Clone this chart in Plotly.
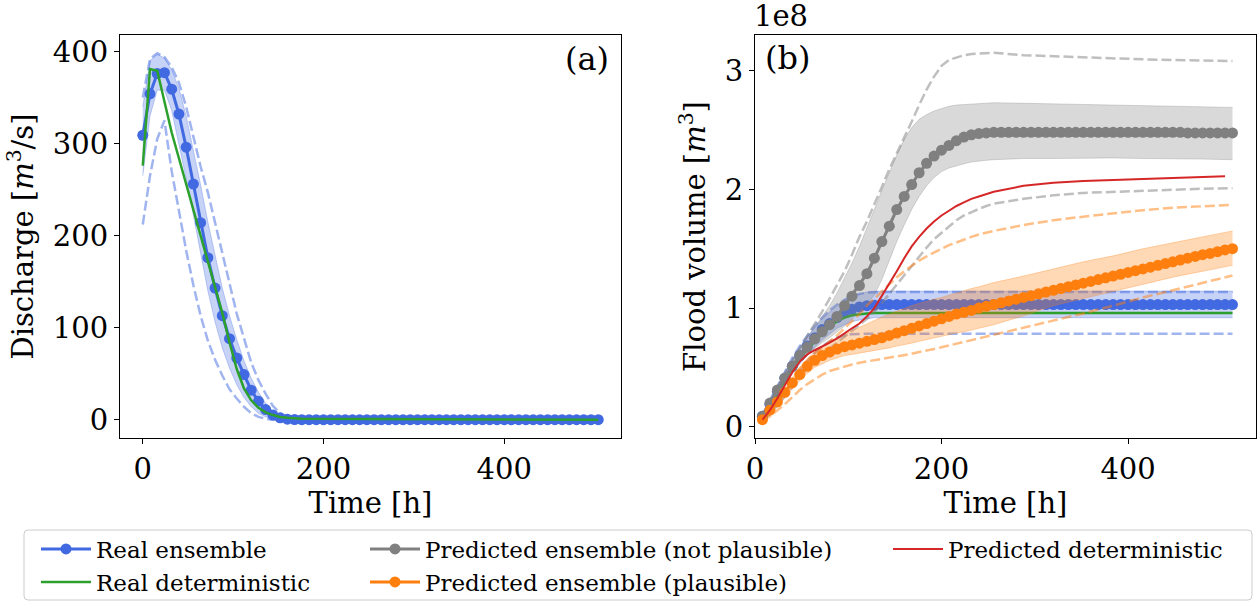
import plotly.graph_objects as go

# ---------------- data: panel (a) discharge [m3/s] ----------------
t_a = list(range(0, 505, 8))          # ensemble time steps [h]
real_ens_a = [309, 354, 376, 377, 359, 332, 296, 256, 214, 176, 143, 113, 88, 67, 49, 32,
              20, 11, 5, 2, 0.5, 0.2,
              0, 0, 0, 0, 0, 0, 0, 0, 0, 0, 0, 0, 0, 0, 0, 0, 0, 0, 0, 0, 0,
              0, 0, 0, 0, 0, 0, 0, 0, 0, 0, 0, 0, 0, 0, 0, 0, 0, 0, 0, 0, 0]
t_a_line = [0, 8, 16, 24, 32, 40, 48, 56, 64, 72, 80, 88, 96, 104, 112, 120, 128, 136,
            144, 152, 160, 168, 176, 504]
band_hi_a = [340, 390, 397, 393, 380, 360, 330, 293, 255, 215, 178, 143, 113, 87, 64, 45,
             30, 18, 9, 4, 2, 1, 0.5, 0]
band_lo_a = [265, 330, 358, 358, 336, 300, 262, 222, 180, 140, 106, 78, 56, 38, 24, 14,
             7, 3, 1, 0, 0, 0, 0, 0]
dash_hi_a = [350, 392, 398, 394, 383, 366, 340, 306, 275, 247, 215, 183, 148, 115, 88, 62,
             43, 28, 15, 7, 3, 1, 0.3, 0]
dash_lo_a = [212, 265, 305, 325, 270, 225, 184, 146, 113, 86, 65, 48, 33, 23, 14, 7,
             3, 1, 0, 0, 0, 0, 0, 0]
real_det_a = [276, 381, 379, 345, 312, 284, 256, 228, 199, 173, 146, 116, 84, 55, 34, 21,
              13, 8, 5, 3, 2, 1.5, 1, 0]

# ---------------- data: panel (b) flood volume [1e8 m3] ----------------
t_b = list(range(8, 513, 8))
real_ens_b = [0.09, 0.19, 0.30, 0.41, 0.51, 0.60, 0.68, 0.75, 0.82, 0.87, 0.92, 0.96, 0.99,
              1.01, 1.02, 1.025,
              1.03, 1.03, 1.03, 1.03, 1.03, 1.03, 1.03, 1.03, 1.03, 1.03, 1.03, 1.03,
              1.03, 1.03, 1.03, 1.03, 1.03, 1.03, 1.03, 1.03, 1.03, 1.03, 1.03, 1.03,
              1.03, 1.03, 1.03, 1.03, 1.03, 1.03, 1.03, 1.03, 1.03, 1.03, 1.03, 1.03,
              1.03, 1.03, 1.03, 1.03, 1.03, 1.03, 1.03, 1.03, 1.03, 1.03, 1.03, 1.03]
pred_np_b = [0.09, 0.20, 0.31, 0.41, 0.51, 0.60, 0.67, 0.74, 0.80, 0.86, 0.93, 1.02, 1.10,
             1.19, 1.29, 1.42, 1.56, 1.69, 1.83, 1.94, 2.04, 2.14, 2.22, 2.28, 2.33, 2.37,
             2.41, 2.44, 2.46, 2.47, 2.475, 2.48,
             2.48, 2.48, 2.48, 2.48, 2.48, 2.48, 2.48, 2.48, 2.48, 2.48, 2.48,
             2.48, 2.48, 2.48, 2.48, 2.48, 2.48, 2.48, 2.48, 2.48, 2.48, 2.48, 2.48,
             2.48, 2.48, 2.475, 2.475, 2.475, 2.475, 2.475, 2.475, 2.475]
pred_p_b = [0.06, 0.14, 0.21, 0.29, 0.37, 0.44, 0.51, 0.56, 0.60, 0.63, 0.655, 0.675, 0.69,
            0.705, 0.72, 0.735, 0.75, 0.77, 0.79, 0.81, 0.83, 0.85, 0.87, 0.89, 0.91, 0.93,
            0.95, 0.965, 0.98, 1.00, 1.015, 1.03, 1.045, 1.06, 1.075, 1.09, 1.105, 1.12,
            1.135, 1.15, 1.165, 1.18, 1.195, 1.21, 1.225, 1.24, 1.255, 1.27, 1.285, 1.30,
            1.315, 1.33, 1.345, 1.36, 1.375, 1.39, 1.405, 1.42, 1.435, 1.45, 1.46, 1.475,
            1.49, 1.50]

t_b_line = [8, 16, 24, 32, 40, 48, 56, 64, 72, 80, 88, 96, 104, 112, 120, 128, 136, 144,
            152, 160, 168, 176, 184, 192, 200, 208, 216, 224, 232, 240, 248, 256,
            288, 320, 352, 384, 416, 448, 480, 512]
real_hi_b = [0.11, 0.22, 0.34, 0.46, 0.57, 0.67, 0.76, 0.84, 0.91, 0.97, 1.02, 1.07, 1.10,
             1.12, 1.135, 1.143, 1.143, 1.143, 1.143, 1.143, 1.143, 1.143, 1.143, 1.143,
             1.143, 1.143, 1.143, 1.143, 1.143, 1.143, 1.143, 1.143,
             1.143, 1.143, 1.143, 1.143, 1.143, 1.143, 1.143, 1.143]
real_lo_b = [0.07, 0.16, 0.26, 0.36, 0.45, 0.53, 0.60, 0.67, 0.73, 0.78, 0.83, 0.86, 0.885,
             0.90, 0.91, 0.919, 0.919, 0.919, 0.919, 0.919, 0.919, 0.919, 0.919, 0.919,
             0.919, 0.919, 0.919, 0.919, 0.919, 0.919, 0.919, 0.919,
             0.919, 0.919, 0.919, 0.919, 0.919, 0.919, 0.919, 0.919]
real_dhi_b = [0.10, 0.22, 0.35, 0.47, 0.58, 0.68, 0.77, 0.85, 0.92, 0.98, 1.03, 1.07, 1.10,
              1.12, 1.13, 1.135, 1.135, 1.135, 1.135, 1.135, 1.135, 1.135, 1.135, 1.135,
              1.135, 1.135, 1.135, 1.135, 1.135, 1.135, 1.135, 1.135,
              1.135, 1.135, 1.135, 1.135, 1.135, 1.135, 1.135, 1.135]
real_dlo_b = [0.05, 0.12, 0.21, 0.30, 0.39, 0.47, 0.55, 0.62, 0.68, 0.72, 0.75, 0.77, 0.78,
              0.785, 0.785, 0.785, 0.785, 0.785, 0.785, 0.785, 0.785, 0.785, 0.785, 0.785,
              0.785, 0.785, 0.785, 0.785, 0.785, 0.785, 0.785, 0.785,
              0.785, 0.785, 0.785, 0.785, 0.785, 0.785, 0.785, 0.785]
real_det_b = [0.06, 0.17, 0.29, 0.40, 0.50, 0.58, 0.65, 0.72, 0.78, 0.84, 0.89, 0.92, 0.94,
              0.95, 0.955, 0.958, 0.958, 0.958, 0.958, 0.958, 0.958, 0.958, 0.958, 0.958,
              0.958, 0.958, 0.958, 0.958, 0.958, 0.958, 0.958, 0.958,
              0.958, 0.958, 0.958, 0.958, 0.958, 0.958, 0.958, 0.958]
np_hi_b = [0.10, 0.22, 0.34, 0.45, 0.56, 0.66, 0.75, 0.84, 0.93, 1.02, 1.13, 1.25, 1.38,
           1.52, 1.67, 1.83, 1.99, 2.14, 2.29, 2.42, 2.52, 2.59, 2.63, 2.66, 2.68, 2.70,
           2.71, 2.715, 2.72, 2.725, 2.73, 2.73,
           2.725, 2.72, 2.71, 2.705, 2.70, 2.695, 2.69, 2.69]
np_lo_b = [0.08, 0.18, 0.28, 0.37, 0.46, 0.54, 0.60, 0.66, 0.71, 0.75, 0.80, 0.85, 0.91,
           0.97, 1.03, 1.11, 1.24, 1.40, 1.56, 1.70, 1.83, 1.94, 2.03, 2.10, 2.15, 2.18,
           2.20, 2.215, 2.23, 2.24, 2.245, 2.25,
           2.26, 2.26, 2.265, 2.265, 2.26, 2.26, 2.255, 2.25]
np_dhi_b = [0.10, 0.22, 0.34, 0.45, 0.56, 0.66, 0.76, 0.86, 0.97, 1.08, 1.19, 1.31, 1.45,
            1.60, 1.73, 1.87, 2.02, 2.17, 2.30, 2.43, 2.57, 2.71, 2.84, 2.95, 3.04, 3.09,
            3.11, 3.13, 3.14, 3.145, 3.15, 3.15,
            3.13, 3.12, 3.11, 3.10, 3.095, 3.09, 3.085, 3.08]
np_dlo_b = [0.05, 0.11, 0.18, 0.26, 0.34, 0.42, 0.49, 0.55, 0.61, 0.66, 0.71, 0.76, 0.81,
            0.86, 0.91, 0.97, 1.04, 1.12, 1.20, 1.28, 1.36, 1.44, 1.51, 1.58, 1.635, 1.69,
            1.74, 1.78, 1.81, 1.835, 1.86, 1.88,
            1.92, 1.95, 1.97, 1.98, 1.99, 2.0, 2.005, 2.01]
p_hi_b = [0.07, 0.15, 0.23, 0.32, 0.41, 0.50, 0.57, 0.63, 0.68, 0.72, 0.75, 0.78, 0.81,
          0.84, 0.87, 0.90, 0.925, 0.95, 0.975, 1.00, 1.02, 1.04, 1.06, 1.075, 1.09, 1.11,
          1.13, 1.15, 1.165, 1.18, 1.20, 1.215,
          1.27, 1.33, 1.39, 1.44, 1.50, 1.55, 1.60, 1.65]
p_lo_b = [0.05, 0.12, 0.18, 0.25, 0.32, 0.39, 0.45, 0.50, 0.53, 0.56, 0.58, 0.60, 0.61,
          0.62, 0.63, 0.645, 0.655, 0.665, 0.68, 0.69, 0.705, 0.72, 0.735, 0.75, 0.76,
          0.775, 0.79, 0.80, 0.815, 0.83, 0.845, 0.86,
          0.935, 1.02, 1.08, 1.14, 1.20, 1.26, 1.31, 1.36]
p_dhi_b = [0.06, 0.14, 0.23, 0.32, 0.41, 0.49, 0.56, 0.62, 0.67, 0.72, 0.77, 0.83, 0.89,
           0.95, 1.02, 1.08, 1.14, 1.20, 1.26, 1.31, 1.355, 1.40, 1.435, 1.47, 1.50, 1.53,
           1.555, 1.58, 1.60, 1.62, 1.635, 1.65,
           1.70, 1.74, 1.77, 1.80, 1.825, 1.845, 1.86, 1.87]
p_dlo_b = [0.05, 0.09, 0.14, 0.19, 0.25, 0.31, 0.36, 0.40, 0.44, 0.47, 0.49, 0.51, 0.525,
           0.54, 0.55, 0.56, 0.57, 0.58, 0.59, 0.60, 0.615, 0.63, 0.64, 0.655, 0.67, 0.685,
           0.70, 0.715, 0.73, 0.745, 0.76, 0.775,
           0.835, 0.89, 0.955, 1.02, 1.09, 1.15, 1.21, 1.275]
t_red = [8, 16, 24, 32, 40, 48, 56, 64, 72, 80, 88, 96, 104, 112, 120, 128, 136, 144,
         152, 160, 168, 176, 184, 192, 200, 208, 216, 224, 232, 240, 248, 256,
         288, 320, 352, 384, 416, 448, 480, 504]
pred_det_b = [0.06, 0.14, 0.24, 0.35, 0.46, 0.55, 0.61, 0.645, 0.675, 0.71, 0.745, 0.79,
              0.83, 0.87, 0.93, 1.00, 1.10, 1.20, 1.31, 1.42, 1.52, 1.60, 1.67, 1.73, 1.78,
              1.82, 1.86, 1.89, 1.92, 1.94, 1.96, 1.98,
              2.03, 2.055, 2.07, 2.08, 2.09, 2.10, 2.105, 2.11]

# ---------------- styling ----------------
FONT = "DejaVu Serif"
W, H = 1258, 604
C_BLUE = (65, 105, 225)
C_GREEN = (44, 160, 44)
C_GRAY = (128, 128, 128)
C_ORANGE = (255, 127, 14)
C_RED = (214, 39, 40)


def col(c, a=1.0):
    return f"rgba({c[0]},{c[1]},{c[2]},{a})"


fig = go.Figure()


def add_band(x, lo, hi, c, xa, ya):
    fig.add_trace(go.Scatter(x=x, y=lo, mode="lines", line=dict(color=col(c, 0.3), width=1),
                             xaxis=xa, yaxis=ya, showlegend=False, hoverinfo="skip"))
    fig.add_trace(go.Scatter(x=x, y=hi, mode="lines", line=dict(color=col(c, 0.3), width=1),
                             fill="tonexty", fillcolor=col(c, 0.3),
                             xaxis=xa, yaxis=ya, showlegend=False, hoverinfo="skip"))


def add_dash(x, y, c, xa, ya):
    fig.add_trace(go.Scatter(x=x, y=y, mode="lines",
                             line=dict(color=col(c, 0.5), width=2.5, dash="10px,4px"),
                             xaxis=xa, yaxis=ya, showlegend=False, hoverinfo="skip"))


def add_mean(x, y, c, xa, ya, name, leg):
    fig.add_trace(go.Scatter(x=x, y=y, mode="lines+markers", name=name,
                             line=dict(color=col(c), width=3),
                             marker=dict(color=col(c), size=11),
                             xaxis=xa, yaxis=ya, showlegend=leg is not None,
                             legend=leg or "legend"))


def add_line(x, y, c, xa, ya, name, leg, width=2.5):
    fig.add_trace(go.Scatter(x=x, y=y, mode="lines", name=name,
                             line=dict(color=col(c), width=width),
                             xaxis=xa, yaxis=ya, showlegend=leg is not None,
                             legend=leg or "legend"))


# panel (a)
add_band(t_a_line, band_lo_a, band_hi_a, C_BLUE, "x", "y")
add_dash(t_a_line, dash_hi_a, C_BLUE, "x", "y")
add_dash(t_a_line, dash_lo_a, C_BLUE, "x", "y")
add_mean(t_a, real_ens_a, C_BLUE, "x", "y", "Real ensemble", "legend")
add_line(t_a_line, real_det_a, C_GREEN, "x", "y", "Real deterministic", "legend2")

# panel (b)
add_band(t_b_line, real_lo_b, real_hi_b, C_BLUE, "x2", "y2")
add_dash(t_b_line, real_dhi_b, C_BLUE, "x2", "y2")
add_dash(t_b_line, real_dlo_b, C_BLUE, "x2", "y2")
add_mean(t_b, real_ens_b, C_BLUE, "x2", "y2", "Real ensemble", None)
add_line(t_b_line, real_det_b, C_GREEN, "x2", "y2", "Real deterministic", None)

add_band(t_b_line, np_lo_b, np_hi_b, C_GRAY, "x2", "y2")
add_dash(t_b_line, np_dhi_b, C_GRAY, "x2", "y2")
add_dash(t_b_line, np_dlo_b, C_GRAY, "x2", "y2")
add_mean(t_b, pred_np_b, C_GRAY, "x2", "y2", "Predicted ensemble (not plausible)", "legend3")

add_band(t_b_line, p_lo_b, p_hi_b, C_ORANGE, "x2", "y2")
add_dash(t_b_line, p_dhi_b, C_ORANGE, "x2", "y2")
add_dash(t_b_line, p_dlo_b, C_ORANGE, "x2", "y2")
add_mean(t_b, pred_p_b, C_ORANGE, "x2", "y2", "Predicted ensemble (plausible)", "legend4")

add_line(t_red, pred_det_b, C_RED, "x2", "y2", "Predicted deterministic", "legend5", width=2)

tickfont = dict(family=FONT, size=29, color="black")
titlefont = dict(family=FONT, size=29, color="black")
axis_common = dict(showline=True, mirror=True, linecolor="black", linewidth=1,
                   ticks="outside", ticklen=5, tickwidth=1, tickcolor="black",
                   showgrid=False, zeroline=False, tickfont=tickfont, automargin=False)

ydom = [(H - 438) / H, (H - 35) / H]
fig.update_layout(
    width=W, height=H, margin=dict(l=0, r=0, t=0, b=0, autoexpand=False),
    paper_bgcolor="white", plot_bgcolor="white",
    font=dict(family=FONT, color="black"),
    xaxis=dict(domain=[120 / W, 621 / W], range=[-25.2, 529.2], tickvals=[0, 200, 400],
               title=dict(text="Time [h]", font=titlefont, standoff=3), **axis_common),
    yaxis=dict(domain=ydom, range=[-19.9, 417.9], tickvals=[0, 100, 200, 300, 400],
               title=dict(text="Discharge [<i>m</i><sup>3</sup>/s]", font=titlefont, standoff=10),
               **axis_common),
    xaxis2=dict(domain=[755 / W, 1256 / W], range=[0, 537.2], tickvals=[0, 200, 400],
                anchor="y2",
                title=dict(text="Time [h]", font=titlefont, standoff=3), **axis_common),
    yaxis2=dict(domain=ydom, range=[-0.094, 3.30], tickvals=[0, 1, 2, 3],
                anchor="x2",
                title=dict(text="Flood volume [<i>m</i><sup>3</sup>]", font=titlefont, standoff=10),
                **axis_common),
)

# legends: five single-entry legends laid out as 3 columns x 2 rows
legfont = dict(family=FONT, size=23, color="black")
row1, row2 = 1 - 549 / H, 1 - 582 / H
leg_pos = {"legend": (36, row1), "legend2": (36, row2), "legend3": (365, row1),
           "legend4": (365, row2), "legend5": (888, row1)}
for key, (px, py) in leg_pos.items():
    fig.update_layout({key: dict(x=px / W, y=py, xanchor="left", yanchor="middle",
                                 bgcolor="rgba(0,0,0,0)", borderwidth=0, font=legfont,
                                 itemwidth=50, orientation="v")})

# rounded legend frame
x0, x1, y0, y1 = 24 / W, 1252 / W, 1 - 600 / H, 1 - 530 / H
rx, ry = 4 / W, 4 / H
path = (f"M{x0 + rx},{y0} L{x1 - rx},{y0} Q{x1},{y0} {x1},{y0 + ry} L{x1},{y1 - ry} "
        f"Q{x1},{y1} {x1 - rx},{y1} L{x0 + rx},{y1} Q{x0},{y1} {x0},{y1 - ry} "
        f"L{x0},{y0 + ry} Q{x0},{y0} {x0 + rx},{y0} Z")
fig.add_shape(type="path", path=path, xref="paper", yref="paper",
              line=dict(color="#cccccc", width=1), fillcolor="rgba(255,255,255,0.8)",
              layer="below")

fig.add_annotation(text="(a)", x=611 / W, y=1 - 59 / H, xref="paper", yref="paper",
                   xanchor="right", yanchor="middle", showarrow=False,
                   font=dict(family=FONT, size=32, color="black"))
fig.add_annotation(text="(b)", x=763 / W, y=1 - 58 / H, xref="paper", yref="paper",
                   xanchor="left", yanchor="middle", showarrow=False,
                   font=dict(family=FONT, size=32, color="black"))
fig.add_annotation(text="1e8", x=752 / W, y=1 - 16 / H, xref="paper", yref="paper",
                   xanchor="left", yanchor="middle", showarrow=False,
                   font=dict(family=FONT, size=29, color="black"))

fig.write_html("out.html", config={"displayModeBar": False},
               post_script="document.body.style.margin='0';document.body.style.overflow='hidden';")
